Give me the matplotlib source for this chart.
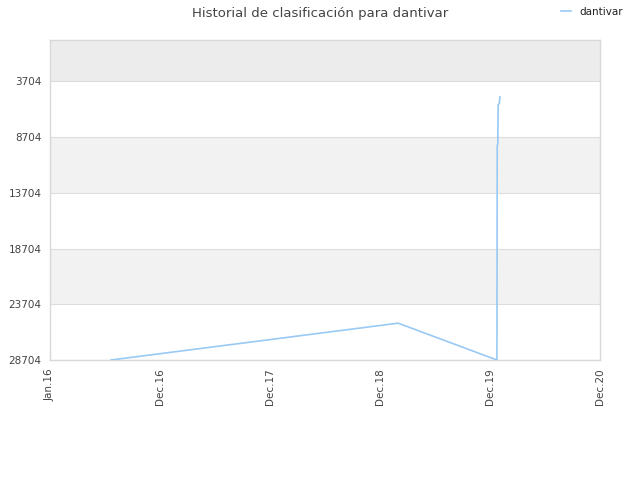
import matplotlib
matplotlib.use("Agg")
import matplotlib.pyplot as plt
import matplotlib.dates as mdates
import numpy as np
from datetime import datetime, timedelta

# rank history for dantivar (lower is better, axis inverted)
dates = ["2016-07-21", "2019-03-01", "2020-01-23", "2020-01-24",
         "2020-01-26", "2020-01-27", "2020-01-31", "2020-02-02"]
ranks = [28704, 25400, 28704, 9500, 9300, 5800, 5700, 5100]

y_ticks = [3704, 8704, 13704, 18704, 23704, 28704]
x_start = datetime(2016, 1, 1)
x_labels = ["Jan.16", "Dec.16", "Dec.17", "Dec.18", "Dec.19", "Dec.20"]
x_ticks = [x_start + timedelta(days=365 * i) for i in range(len(x_labels))]

line_color = "#99c9f5"
grid_color = "#dddddd"
text_color = "#444444"

fig = plt.figure(figsize=(6.4, 4.8), dpi=100)
ax = fig.add_axes([50 / 640, 1 - 360 / 480, 550 / 640, 320 / 480])

x = [datetime.strptime(d, "%Y-%m-%d") for d in dates]
y_min, y_max = 1, 28704

# alternating bands between y ticks
edges = [y_min] + y_ticks
band_colors = ["#ececec", "white", "#f2f2f2", "white", "#f2f2f2", "white"]
for lo, hi, c in zip(edges[:-1], edges[1:], band_colors):
    ax.axhspan(lo, hi, color=c, zorder=0, lw=0)
for t in y_ticks:
    ax.axhline(t, color=grid_color, lw=0.8, zorder=1)

ax.plot(x, ranks, color=line_color, lw=1.2, zorder=3)

ax.set_ylim(y_max, y_min)
ax.set_xlim(x_ticks[0], x_ticks[-1])
ax.set_yticks(y_ticks)
ax.set_yticklabels([str(t) for t in y_ticks])
ax.set_xticks(x_ticks)
ax.set_xticklabels(x_labels, rotation=90)
ax.tick_params(length=0, labelsize=7.5, colors=text_color, pad=6)

for s in ax.spines.values():
    s.set_color("#d8d8d8")
    s.set_linewidth(1)

fig.text(0.5, 1 - 13 / 480, "Historial de clasificación para dantivar",
         ha="center", va="center", fontsize=9.5, color=text_color)
ax.plot([], [], color=line_color, lw=1.2, label="dantivar")
leg = fig.legend(loc="upper right", bbox_to_anchor=(0.988, 1.005), frameon=False,
                 fontsize=7.5, handlelength=1.0, handletextpad=0.8)
for t in leg.get_texts():
    t.set_color("#222222")

fig.savefig("out.png", dpi=100)
